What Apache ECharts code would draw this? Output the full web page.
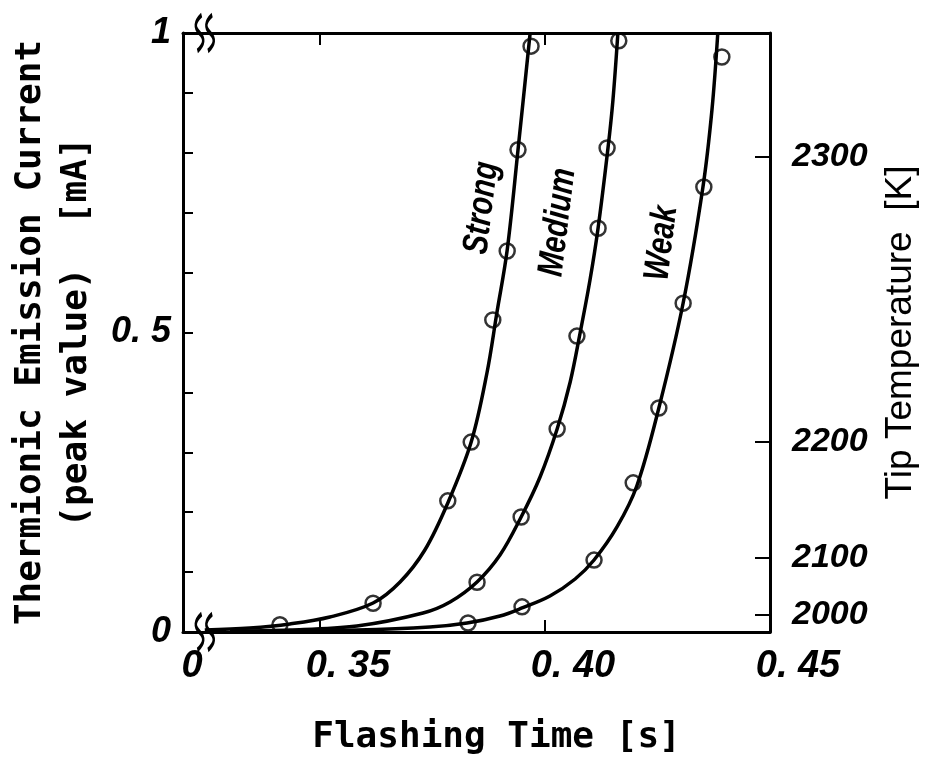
<!DOCTYPE html>
<html>
<head>
<meta charset="utf-8">
<script src="https://cdn.jsdelivr.net/npm/echarts@6/dist/echarts.min.js"></script>
<style>
html,body{margin:0;padding:0;background:#fff;}
#chart{width:930px;height:760px;}
</style>
</head>
<body>
<div id="chart"></div>
<script>
// ---- axis ticks & labels ----
var xMin = 0.31956, xMax = 0.45, xBreak = 0.3244;
var xTickValues = [0.35, 0.40];
var xLabelValues = [0.35, 0.40, 0.45];
var xLabelText = ['0. 35', '0. 40', '0. 45'];
var yLabelValues = [0, 0.5, 1];
var yLabelText = ['0', '0. 5', '1'];
var yMinorTicks = [0.1, 0.2, 0.3, 0.4, 0.5, 0.6, 0.7, 0.8, 0.9];
var tempLabels = ['2000', '2100', '2200', '2300'];
var tempPositions = [0.0284, 0.1235, 0.317, 0.793];

// ---- measured points (flashing time [s], current [mA]) ----
var strongPts = [[0.3411,0.012],[0.3618,0.048],[0.3784,0.219],[0.3836,0.317],[0.3884,0.521],[0.3916,0.636],[0.3940,0.805],[0.3969,0.978]];
var mediumPts = [[0.3849,0.083],[0.3947,0.192],[0.4027,0.339],[0.4071,0.494],[0.4118,0.674],[0.4138,0.808],[0.4164,0.987]];
var weakPts   = [[0.3829,0.015],[0.3949,0.042],[0.4109,0.120],[0.4196,0.249],[0.4253,0.374],[0.4307,0.549],[0.4353,0.743],[0.4393,0.960]];

// ---- fitted curves ----
var strongCurve = [[0.3244,0.0033],[0.3344,0.0067],[0.3433,0.0134],[0.3522,0.0250],[0.3618,0.0484],[0.3678,0.0835],[0.3733,0.1369],[0.3784,0.2154],[0.3836,0.3172],[0.3871,0.4324],[0.3893,0.5326],[0.3916,0.6377],[0.3940,0.8047],[0.3967,1.0]];
var mediumCurve = [[0.3300,0.0017],[0.3433,0.0033],[0.3582,0.0100],[0.3729,0.0317],[0.3789,0.0501],[0.3849,0.0835],[0.3900,0.1285],[0.3947,0.1920],[0.3989,0.2588],[0.4027,0.3389],[0.4056,0.4174],[0.4078,0.4992],[0.4100,0.5876],[0.4118,0.6745],[0.4140,0.8080],[0.4151,0.8881],[0.4162,1.0]];
var weakCurve   = [[0.3367,0.0017],[0.3582,0.0033],[0.3744,0.0083],[0.3827,0.0150],[0.3900,0.0267],[0.3949,0.0401],[0.4011,0.0601],[0.4067,0.0885],[0.4109,0.1202],[0.4160,0.1753],[0.4204,0.2437],[0.4253,0.3740],[0.4307,0.5492],[0.4351,0.7429],[0.4371,0.8715],[0.4384,1.0]];

// ---- curve name annotations (data coords) ----
var seriesNames = ['Strong', 'Medium', 'Weak'];
var namePos = [[0.3860,0.708],[0.4029,0.684],[0.4260,0.649]];

var SANS = "'Liberation Sans','Arial',sans-serif";
var MONO = "'DejaVu Sans Mono','Liberation Mono',monospace";

function near(a, b){ return Math.abs(a - b) < 1e-6; }

var chart = echarts.init(document.getElementById('chart'), null, {renderer:'canvas'});

var axisLineStyle = {color:'#000', width:3};

function lineSeries(name, data){
  return {
    name: name, type:'line', data: data, smooth: 0.35,
    showSymbol:false, symbol:'none', clip:true,
    lineStyle:{color:'#000', width:3.5}, z:2
  };
}
function scatterSeries(name, data){
  return {
    name: name+' pts', type:'scatter', data: data, symbol:'circle', symbolSize:15,
    itemStyle:{color:'rgba(0,0,0,0)', borderColor:'#000', borderWidth:2.5}, z:3
  };
}

var breakPath = 'path://M8,0 C1,8 1,14 6,20 C11,26 11,32 4,40 M18,0 C11,8 11,14 16,20 C21,26 21,32 14,40';
var tickFont = {fontFamily:SANS, fontStyle:'italic', fontWeight:'bold', color:'#000'};

var option = {
  animation:false,
  backgroundColor:'#fff',
  grid:{left:183, right:160, top:33, bottom:128, containLabel:false, outerBoundsMode:'none'},
  xAxis:[{
    type:'value', min:xMin, max:xMax, position:'bottom',
    name:'Flashing Time [s]', nameLocation:'middle', nameGap:88,
    nameTextStyle:{fontFamily:MONO, fontSize:36, fontWeight:'bold', color:'#000', padding:[0,0,0,40]},
    axisLine:{show:true, onZero:false, lineStyle:axisLineStyle},
    axisTick:{show:true, inside:true, length:12, lineStyle:{color:'#000', width:2}, customValues:xTickValues},
    axisLabel:{
      show:true, margin:16, customValues:[xMin].concat(xLabelValues),
      formatter:function(v){
        if (near(v, xMin)) return '{z|0}';
        for (var i=0;i<xLabelValues.length;i++) if (near(v, xLabelValues[i])) return '{n|'+xLabelText[i]+'}';
        return '';
      },
      rich:{
        n:Object.assign({fontSize:38, padding:[0,0,0,56]}, tickFont),
        z:Object.assign({fontSize:38, padding:[0,0,0,18]}, tickFont)
      }
    },
    splitLine:{show:false}
  },{
    type:'value', min:xMin, max:xMax, position:'top',
    axisLine:{show:true, onZero:false, lineStyle:axisLineStyle},
    axisTick:{show:true, inside:true, length:12, lineStyle:{color:'#000', width:2}, customValues:xTickValues},
    axisLabel:{show:false},
    splitLine:{show:false}
  }],
  yAxis:[{
    type:'value', min:0, max:1, position:'left',
    name:'Thermionic Emission Current\n(peak value)  [mA]', nameLocation:'middle', nameGap:55, nameRotate:90,
    nameTextStyle:{fontFamily:MONO, fontSize:36, fontWeight:'bold', color:'#000', lineHeight:46, align:'center'},
    axisLine:{show:true, onZero:false, lineStyle:axisLineStyle},
    axisTick:{show:true, inside:true, length:10, lineStyle:{color:'#000', width:2}, customValues:yMinorTicks},
    axisLabel:Object.assign({
      show:true, margin:12, customValues:yLabelValues, fontSize:36,
      formatter:function(v){
        for (var i=0;i<yLabelValues.length;i++) if (near(v, yLabelValues[i])) return yLabelText[i];
        return '';
      }
    }, tickFont),
    splitLine:{show:false}
  },{
    type:'value', min:0, max:1, position:'right',
    name:'Tip Temperature  [K]', nameLocation:'middle', nameGap:112, nameRotate:90,
    nameTextStyle:{fontFamily:SANS, fontSize:37, color:'#000'},
    axisLine:{show:true, onZero:false, lineStyle:axisLineStyle},
    axisTick:{show:true, inside:true, length:15, lineStyle:{color:'#000', width:2}, customValues:tempPositions},
    axisLabel:Object.assign({
      show:true, margin:22, customValues:tempPositions, fontSize:34,
      formatter:function(v){
        for (var i=0;i<tempPositions.length;i++) if (near(v, tempPositions[i])) return tempLabels[i];
        return '';
      }
    }, tickFont),
    splitLine:{show:false}
  }],
  series:[
    (function(){
      var s = lineSeries('Strong', strongCurve);
      s.markPoint = {
        symbol: breakPath, symbolSize:[18,36], silent:true,
        itemStyle:{color:'rgba(0,0,0,0)', borderColor:'#000', borderWidth:3.5},
        label:{show:false},
        data:[{coord:[xBreak,0]},{coord:[xBreak,1]}]
      };
      return s;
    })(),
    lineSeries('Medium', mediumCurve),
    lineSeries('Weak', weakCurve),
    scatterSeries('Strong', strongPts),
    scatterSeries('Medium', mediumPts),
    scatterSeries('Weak', weakPts)
  ]
};

chart.setOption(option);

var graphics = [];
for (var i=0;i<seriesNames.length;i++){
  var p = chart.convertToPixel({gridIndex:0}, namePos[i]);
  graphics.push({
    type:'text', x:p[0], y:p[1], rotation: 83*Math.PI/180, scaleX:0.8, z:10,
    style:{text:seriesNames[i], fontFamily:SANS, fontStyle:'italic', fontWeight:'bold', fontSize:36,
           fill:'#000', align:'center', verticalAlign:'middle'}
  });
}
chart.setOption({graphic: graphics});
</script>
</body>
</html>
